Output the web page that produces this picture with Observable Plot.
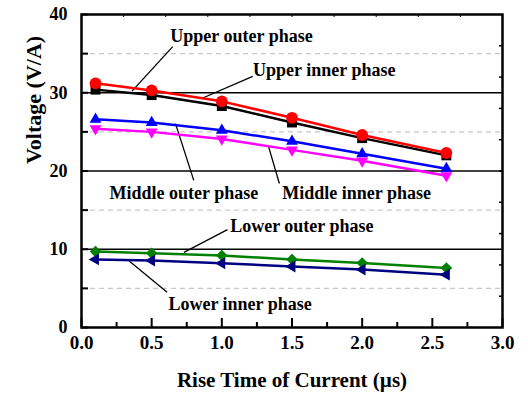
<!DOCTYPE html>
<html>
<head>
<meta charset="utf-8">
<script src="https://cdn.jsdelivr.net/npm/d3@7"></script>
<script src="https://cdn.jsdelivr.net/npm/@observablehq/plot@0.6"></script>
<style>
  html, body { margin: 0; padding: 0; background: #fff; }
  svg, svg text { font-family: "Liberation Serif", "Times New Roman", serif !important; font-weight: bold; }
</style>
</head>
<body>
<div id="chart"></div>
<script>
// ---- data ----
const riseTime = [0.1, 0.5, 1.0, 1.5, 2.0, 2.6];
const upperInner  = [31.2, 30.3, 28.9, 26.8, 24.6, 22.3];
const upperOuter  = [30.4, 29.7, 28.3, 26.2, 24.2, 22.0];
const middleOuter = [26.6, 26.2, 25.2, 23.8, 22.2, 20.3];
const middleInner = [25.4, 25.0, 24.1, 22.7, 21.3, 19.4];
const lowerOuter  = [9.7, 9.5, 9.2, 8.7, 8.25, 7.6];
const lowerInner  = [8.7, 8.55, 8.2, 7.8, 7.4, 6.75];

const seriesNames = ["Upper outer phase", "Upper inner phase", "Middle outer phase",
                     "Middle inner phase", "Lower outer phase", "Lower inner phase"];
const seriesValues = [upperOuter, upperInner, middleOuter, middleInner, lowerOuter, lowerInner];

// annotation label positions (data units)
const labelX = [1.14, 1.73, 0.73, 1.96, 1.57, 1.13];
const labelY = [37.2, 32.9, 17.15, 17.1, 13.0, 3.0];
// leader lines: from label to series (data units)
const leadX1 = [0.65, 1.22, 0.80, 1.41, 1.04, 0.61];
const leadY1 = [35.9, 32.1, 18.8, 18.4, 12.5, 4.5];
const leadX2 = [0.36, 0.86, 0.67, 1.33, 0.73, 0.34];
const leadY2 = [30.2, 29.3, 26.05, 23.3, 9.6, 8.5];

const xTicks = [0, 0.5, 1.0, 1.5, 2.0, 2.5, 3.0];
const yTicks = [0, 10, 20, 30, 40];

// ---- styles ----
const FONT = "'Liberation Serif', 'Times New Roman', serif";
const colors  = ["#000000", "#ff0000", "#0000ff", "#ff00ff", "#008000", "#000080"];
const symbols = ["square", "circle", "triangle", "triangle", "diamond2", "triangle"];
const rotates = [0, 0, 0, 180, 0, -90];
const radii   = [5.6, 5.9, 4.4, 4.4, 5.2, 4.4];
const drawOrder = [0, 1, 2, 3, 4, 5];

const rows = seriesNames.map((name, k) =>
  riseTime.map((t, i) => ({ t, v: seriesValues[k][i], name })));

const labels = seriesNames.map((name, k) => ({ name, x: labelX[k], y: labelY[k] }));
const leaders = seriesNames.map((name, k) => ({
  x1: leadX1[k], y1: leadY1[k], x2: leadX2[k], y2: leadY2[k] }));

const seriesMarks = drawOrder.flatMap(k => [
  Plot.line(rows[k], { x: "t", y: "v", stroke: colors[k], strokeWidth: 2.5 }),
  Plot.dot(rows[k], { x: "t", y: "v", fill: colors[k], stroke: "none",
    symbol: symbols[k], r: radii[k], rotate: rotates[k] })
]);

const chart = Plot.plot({
  width: 528,
  height: 394,
  marginLeft: 81,
  marginRight: 26,
  marginTop: 14,
  marginBottom: 67,
  style: { fontFamily: FONT, fontWeight: "bold", background: "#fff", color: "#000" },
  x: { domain: [0, 3], axis: null },
  y: { domain: [0, 40], axis: null },
  marks: [
    Plot.ruleY([5, 15, 25, 35], { stroke: "#c8c8c8", strokeWidth: 1.2, strokeDasharray: "5,4" }),
    Plot.ruleY([10, 20, 30], { stroke: "#000", strokeWidth: 1.5 }),
    Plot.axisX({ ticks: xTicks, tickSize: -9, tickFormat: () => "", strokeWidth: 2 }),
    Plot.axisX({ ticks: d3.range(0.25, 3, 0.5), tickSize: -5, tickFormat: () => "", strokeWidth: 2 }),
    Plot.axisX({ anchor: "top", ticks: d3.range(0.3, 2.95, 0.3), tickSize: -2, tickFormat: () => "", strokeWidth: 1 }),
    Plot.axisY({ ticks: d3.range(0, 41, 5), tickSize: -7, tickFormat: () => "", strokeWidth: 2 }),
    Plot.axisY({ anchor: "right", ticks: d3.range(4, 40, 4), tickSize: -4, tickFormat: () => "", strokeWidth: 1.5 }),
    Plot.axisX({ ticks: xTicks, tickSize: 0, tickPadding: 8, tickFormat: d3.format(".1f"),
                 fontSize: 19, fontFamily: FONT, fontWeight: "bold", label: null }),
    Plot.axisY({ ticks: yTicks, tickSize: 0, tickPadding: 14, tickFormat: d3.format("d"),
                 fontSize: 18, fontFamily: FONT, fontWeight: "bold", label: null }),
    Plot.text(["Rise Time of Current (\u00b5s)"], { frameAnchor: "bottom", dy: 53,
      fontSize: 21, fontFamily: FONT, fontWeight: "bold", lineAnchor: "middle" }),
    Plot.text(["Voltage (V/A)"], { frameAnchor: "left", dx: -48, dy: -7, rotate: -90,
      fontSize: 22, fontFamily: FONT, fontWeight: "bold", lineAnchor: "middle" }),
    Plot.link(leaders, { x1: "x1", y1: "y1", x2: "x2", y2: "y2", stroke: "#000", strokeWidth: 1.3 }),
    Plot.text(labels, { x: "x", y: "y", text: "name", fontSize: 18, fontFamily: FONT,
      fontWeight: "bold", lineAnchor: "middle", textAnchor: "middle" }),
    ...seriesMarks,
    Plot.frame({ stroke: "#000", strokeWidth: 2.5 })
  ]
});
document.getElementById("chart").appendChild(chart);
</script>
</body>
</html>
